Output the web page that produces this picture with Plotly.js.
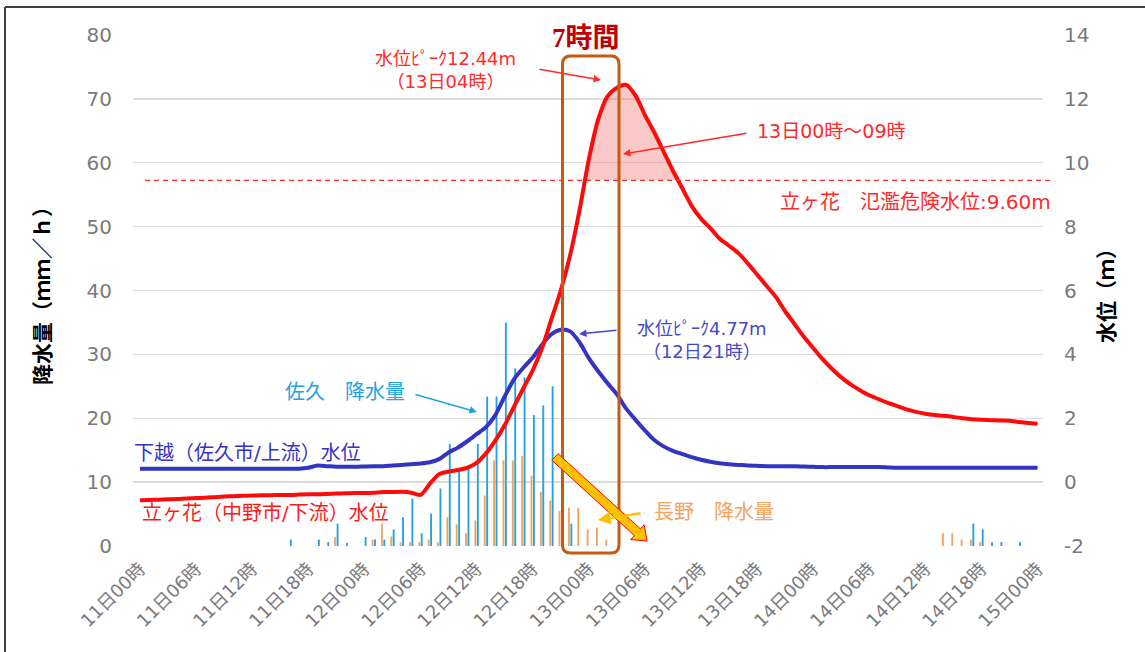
<!DOCTYPE html>
<html>
<head>
<meta charset="utf-8">
<script src="https://cdn.plot.ly/plotly-3.0.1.min.js"></script>
<style>
html,body{margin:0;padding:0;background:#fff;}
#chart{width:1145px;height:652px;}
</style>
</head>
<body>
<div id="chart"></div>
<script>
// ---- data ----
const tickHours = [0,6,12,18,24,30,36,42,48,54,60,66,72,78,84,90,96];
const tickLabels = ["11日00時","11日06時","11日12時","11日18時","12日00時","12日06時","12日12時","12日18時",
                    "13日00時","13日06時","13日12時","13日18時","14日00時","14日06時","14日12時","14日18時","15日00時"];
const levelTicks = [-2,0,2,4,6,8,10,12,14];
const levelTickLabels = ["-2","0","2","4","6","8","10","12","14"];
const hours = Array.from({length: 97}, (_, i) => i);   // hourly index from 11日00時

// 佐久 降水量 (mm/h)
const sakuRain = [
  0,0,0,0,0,0,0,0,0,0,0,0,
  0,0,0,0,1.0,0,0,1.0,0.6,3.5,0.5,0,
  1.4,1.0,1.0,2.6,4.5,7.4,2.0,5.1,9.0,16.0,12.0,12.4,
  16.0,23.4,23.4,35.0,27.8,26.4,20.5,22.0,25.0,7.0,3.5,0,
  0,0,0,0,0,0,0,0,0,0,0,0,
  0,0,0,0,0,0,0,0,0,0,0,0,
  0,0,0,0,0,0,0,0,0,0,0,0,
  0,0,0,0,0,3.5,2.6,0.6,0.6,0,0.6,0,
  0
];
// 長野 降水量 (mm/h)
const naganoRain = [
  0,0,0,0,0,0,0,0,0,0,0,0,
  0,0,0,0,0,0,0,0,0,1.4,0,0,
  0,1.0,3.5,1.5,0.6,0.6,0.6,1.0,0.6,4.5,3.4,2.0,
  4.0,7.9,13.4,13.4,13.4,14.1,11.0,8.5,7.1,5.5,6.0,6.0,
  2.6,2.9,1.0,0,0,0,0,0,0,0,0,0,
  0,0,0,0,0,0,0,0,0,0,0,0,
  0,0,0,0,0,0,0,0,0,0,0,0,
  0,0,2.0,2.0,1.0,1.0,0.6,0,0,0,0,0,
  0
];
// 下越（佐久市/上流）水位 (m)
const shimogoshiLevel = [
  0.42,0.42,0.42,0.42,0.42,0.42,0.42,0.42,0.42,0.42,0.42,0.42,
  0.42,0.42,0.42,0.42,0.42,0.42,0.45,0.52,0.50,0.48,0.48,0.48,
  0.49,0.50,0.50,0.52,0.54,0.56,0.58,0.62,0.72,0.93,1.08,1.28,
  1.50,1.72,2.10,2.68,3.22,3.58,3.90,4.30,4.63,4.77,4.72,4.38,
  3.88,3.47,3.10,2.75,2.30,1.95,1.62,1.32,1.12,0.98,0.88,0.78,
  0.70,0.64,0.59,0.56,0.54,0.52,0.51,0.50,0.50,0.50,0.50,0.49,
  0.48,0.47,0.47,0.47,0.47,0.47,0.47,0.47,0.46,0.45,0.45,0.45,
  0.45,0.45,0.45,0.45,0.45,0.45,0.45,0.45,0.45,0.45,0.45,0.45,
  0.45
];
// 立ヶ花（中野市/下流）水位 (m)
const tatekahanaLevel = [
  -0.57,-0.56,-0.55,-0.54,-0.53,-0.51,-0.50,-0.49,-0.47,-0.45,-0.44,-0.43,
  -0.42,-0.41,-0.41,-0.40,-0.40,-0.39,-0.38,-0.38,-0.37,-0.36,-0.35,-0.34,
  -0.34,-0.33,-0.31,-0.31,-0.30,-0.33,-0.40,-0.05,0.25,0.33,0.38,0.45,
  0.60,0.90,1.30,1.78,2.36,2.94,3.50,4.20,5.10,6.00,7.10,8.50,
  10.10,11.35,12.08,12.35,12.44,12.10,11.50,10.95,10.35,9.75,9.20,8.65,
  8.25,7.95,7.62,7.40,7.17,6.85,6.50,6.15,5.80,5.35,4.95,4.55,
  4.20,3.85,3.55,3.28,3.06,2.88,2.72,2.60,2.48,2.38,2.28,2.20,
  2.14,2.10,2.08,2.04,2.00,1.97,1.95,1.94,1.93,1.92,1.88,1.85,
  1.83
];
const dangerLevel = 9.45;   // 氾濫危険水位 line as drawn

// ---- helpers (pixel -> paper) ----
const ML = 133, MT = 35, PW = 910, PH = 511;
const px = x => (x - ML) / PW;
const py = y => (MT + PH - y) / PH;
const FONT = "'DejaVu Sans', 'Noto Sans CJK JP', sans-serif";

// area above danger level
const fx = [], fy = [];
for (let i = 1; i < tatekahanaLevel.length; i++) {
  const a = tatekahanaLevel[i-1], b = tatekahanaLevel[i];
  if ((a - dangerLevel) * (b - dangerLevel) < 0) {
    const t = (dangerLevel - a) / (b - a);
    fx.push(hours[i-1] + t); fy.push(dangerLevel);
  }
  if (b > dangerLevel) { fx.push(hours[i]); fy.push(b); }
}

const traces = [
  {type:'bar', name:'長野 降水量', x:hours, y:naganoRain, yaxis:'y',
   marker:{color:'#F5A25D'}, width:0.2, offset:-0.23},
  {type:'bar', name:'佐久 降水量', x:hours, y:sakuRain, yaxis:'y',
   marker:{color:'#22A2DE'}, width:0.2, offset:0.03},
  {type:'scatter', mode:'lines', x:[fx[0], fx[fx.length-1]], y:[dangerLevel, dangerLevel],
   yaxis:'y2', line:{width:0, color:'rgba(0,0,0,0)'}, showlegend:false},
  {type:'scatter', mode:'lines', x:fx, y:fy, yaxis:'y2', fill:'tonexty',
   fillcolor:'rgba(245,110,110,0.38)', line:{width:0, shape:'spline', smoothing:0.8}, showlegend:false},
  {type:'scatter', mode:'lines', name:'下越（佐久市/上流）水位', x:hours, y:shimogoshiLevel, yaxis:'y2',
   line:{color:'#3434C4', width:4, shape:'spline', smoothing:0.8}},
  {type:'scatter', mode:'lines', name:'立ヶ花（中野市/下流）水位', x:hours, y:tatekahanaLevel, yaxis:'y2',
   line:{color:'#FF0A0A', width:4, shape:'spline', smoothing:0.8}}
];

function txt(text, x, y, color, size, xanchor, extra) {
  return Object.assign({text, x:px(x), y:py(y), xref:'paper', yref:'paper', showarrow:false,
    xanchor:xanchor||'center', yanchor:'middle', align:'center',
    font:{family:FONT, size:size, color:color}}, extra||{});
}
function arr(hx, hy, tx, ty, color, w) {
  return {text:'', x:px(hx), y:py(hy), xref:'paper', yref:'paper', showarrow:true,
    ax:tx-hx, ay:ty-hy, axref:'pixel', ayref:'pixel',
    arrowhead:2, arrowsize:1, arrowwidth:w||1.5, arrowcolor:color};
}

const annotations = [
  txt('7時間', 586, 38, '#C00000', 27, 'center', {font:{family:"'Liberation Serif', 'Noto Sans CJK JP', serif", size:27, color:'#C00000', weight:'bold'}}),
  txt('水位ﾋﾟｰｸ12.44m<br>（13日04時）', 445, 70, '#FF2A2A', 18),
  arr(601, 80, 538, 69, '#FF2A2A', 1.5),
  txt('13日00時～09時', 831, 131, '#FF2A2A', 19),
  arr(623, 154, 748, 133, '#FF2A2A', 1.5),
  txt('立ヶ花　氾濫危険水位:9.60m', 1053, 202, '#FF2A2A', 20, 'right'),
  txt('水位ﾋﾟｰｸ4.77m<br>（12日21時）', 702, 340, '#4747C9', 18),
  arr(579, 334, 618, 330, '#4747C9', 1.5),
  txt('佐久　降水量', 345, 392, '#22A2DE', 20),
  arr(477, 412, 414, 394, '#22A2DE', 1.5),
  txt('下越（佐久市/上流）水位', 132, 453, '#3434C4', 20, 'left'),
  txt('立ヶ花（中野市/下流）水位', 140, 513, '#FF1A1A', 20, 'left'),
  txt('長野　降水量', 652, 512, '#F5A25D', 20, 'left'),
  arr(598, 520, 642, 513, '#FFC000', 2.5)
];

// rounded box (7時間)
const bx0 = 562.5, bx1 = 619, by0 = 56, by1 = 553, r = 8;
const boxPath = `M ${px(bx0+r)},${py(by0)} L ${px(bx1-r)},${py(by0)} Q ${px(bx1)},${py(by0)} ${px(bx1)},${py(by0+r)} ` +
  `L ${px(bx1)},${py(by1-r)} Q ${px(bx1)},${py(by1)} ${px(bx1-r)},${py(by1)} ` +
  `L ${px(bx0+r)},${py(by1)} Q ${px(bx0)},${py(by1)} ${px(bx0)},${py(by1-r)} ` +
  `L ${px(bx0)},${py(by0+r)} Q ${px(bx0)},${py(by0)} ${px(bx0+r)},${py(by0)} Z`;

// big yellow arrow
const u = [0.738, 0.674], p = [-0.674, 0.738];
const S = [555, 457], Tp = [647, 541];
const B = [Tp[0] - 13*u[0], Tp[1] - 13*u[1]];
const pt = (c, k) => [c[0] + k*p[0], c[1] + k*p[1]];
const arrowPts = [pt(S,-4.5), pt(B,-4.5), pt(B,-10), Tp, pt(B,10), pt(B,4.5), pt(S,4.5)];
const arrowPath = 'M ' + arrowPts.map(q => `${px(q[0])},${py(q[1])}`).join(' L ') + ' Z';

const shapes = [
  {type:'line', xref:'paper', yref:'y2', x0:px(145), x1:px(1052), y0:dangerLevel, y1:dangerLevel,
   line:{color:'#FF3030', width:1.2, dash:'5px,4px'}},
  {type:'path', xref:'paper', yref:'paper', path:boxPath, line:{color:'#C55A11', width:3}},
  {type:'path', xref:'paper', yref:'paper', path:arrowPath, fillcolor:'#FFC000', line:{color:'#FF0000', width:1}},
  {type:'line', xref:'paper', yref:'paper', x0:px(5), x1:px(1150), y0:py(7), y1:py(7), line:{color:'#404040', width:2}},
  {type:'line', xref:'paper', yref:'paper', x0:px(5), x1:px(5), y0:py(7), y1:py(660), line:{color:'#404040', width:2}}
];

const layout = {
  width:1145, height:652,
  margin:{l:ML, r:1145-ML-PW, t:MT, b:652-MT-PH},
  paper_bgcolor:'#ffffff', plot_bgcolor:'#ffffff',
  showlegend:false, barmode:'overlay',
  font:{family:FONT},
  xaxis:{range:[-0.75, 96.58], tickmode:'array', tickvals:tickHours, ticktext:tickLabels,
    tickangle:-45, tickfont:{family:FONT, size:18, color:'#7a7a7a'}, showgrid:false,
    zeroline:false, showline:false, ticks:'', ticklabelstandoff:8},
  yaxis:{range:[0,80], dtick:10, showgrid:true, gridcolor:'#dcdcdc', gridwidth:1.3,
    zeroline:false, showline:false, ticks:'', ticklabelstandoff:20,
    tickfont:{family:FONT, size:20, color:'#7a7a7a'},
    title:{text:'降水量（ｍｍ／ｈ）', standoff:30, font:{family:FONT, size:21, color:'#000000', weight:'bold'}}},
  yaxis2:{range:[-2,14], tickmode:'array', tickvals:levelTicks, ticktext:levelTickLabels,
    overlaying:'y', side:'right', showgrid:false,
    zeroline:false, showline:false, ticks:'', ticklabelstandoff:20,
    tickfont:{family:FONT, size:20, color:'#7a7a7a'},
    title:{text:'水位（ｍ）', standoff:10, font:{family:FONT, size:21, color:'#000000', weight:'bold'}}},
  annotations, shapes
};

Plotly.newPlot('chart', traces, layout, {staticPlot:true, displayModeBar:false});
</script>
</body>
</html>
